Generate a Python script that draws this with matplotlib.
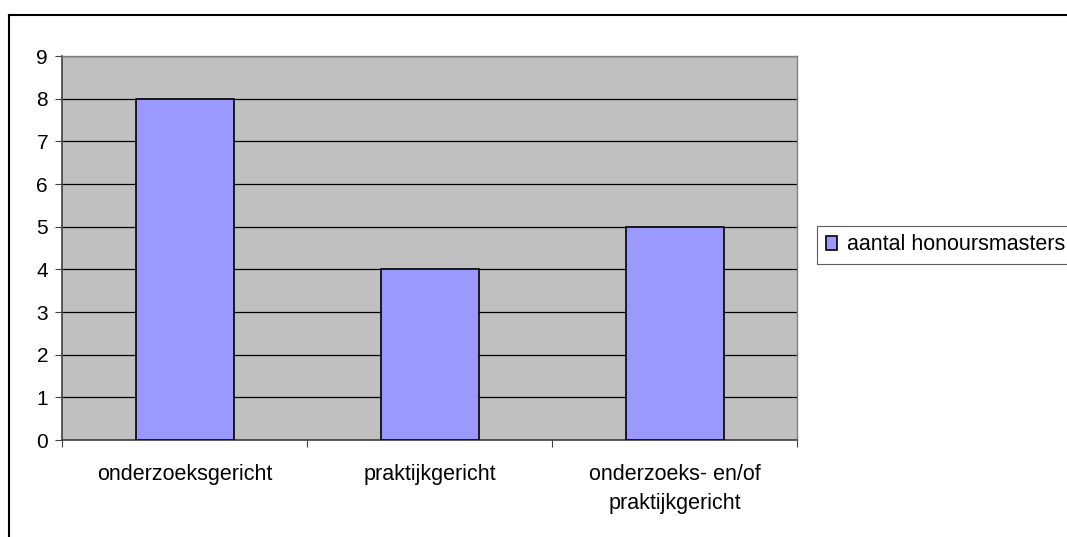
import matplotlib
matplotlib.use("Agg")
import matplotlib.pyplot as plt
from matplotlib.lines import Line2D

categories = ["onderzoeksgericht", "praktijkgericht", "onderzoeks- en/of\npraktijkgericht"]
values = [8, 4, 5]
series_name = "aantal honoursmasters"
yticks = list(range(0, 10))

plt.rcParams['font.family'] = ['Liberation Sans', 'DejaVu Sans']

W, H = 1067, 537
fig = plt.figure(figsize=(W / 100, H / 100), dpi=100)

# outer frame (chart border)
fig.add_artist(Line2D([9 / W, 9 / W], [0, 1 - 15 / H], transform=fig.transFigure, color='black', lw=1.5))
fig.add_artist(Line2D([9 / W, 1], [1 - 15 / H, 1 - 15 / H], transform=fig.transFigure, color='black', lw=1.5))

x0, x1, y0, y1 = 62, 797, 56, 440
ax = fig.add_axes([x0 / W, 1 - y1 / H, (x1 - x0) / W, (y1 - y0) / H])
ax.set_facecolor('#C0C0C0')
xs = list(range(len(categories)))
ax.bar(xs, values, width=0.4, color='#9999FF', edgecolor='black', linewidth=1.2, zorder=3, label=series_name)
ax.set_xlim(-0.5, len(categories) - 0.5)
ax.set_ylim(0, 9)
ax.set_yticks(yticks)
ax.yaxis.grid(True, color='black', linewidth=0.9, zorder=1)
ax.set_axisbelow(True)
ax.set_xticks([i + 0.5 for i in range(-1, len(categories))])
ax.set_xticklabels([])
ax.set_xticks(xs, minor=True)
ax.set_xticklabels(categories, minor=True, fontsize=15.5, linespacing=1.55)
ax.tick_params(axis='x', which='minor', length=0, pad=17)
ax.tick_params(axis='x', which='major', length=5, color='#404040')
ax.tick_params(axis='y', length=5, color='#404040', labelsize=15, pad=5)
for s in ['top', 'right']:
    ax.spines[s].set_color('#808080')
    ax.spines[s].set_linewidth(1.0)
for s in ['left', 'bottom']:
    ax.spines[s].set_color('#404040')
    ax.spines[s].set_linewidth(1.2)

leg = fig.legend(loc='center left', bbox_to_anchor=(817 / W, 1 - 245 / H), fontsize=15.5,
                 frameon=True, fancybox=False, edgecolor='#333333', handlelength=0.55, handleheight=0.6,
                 handletextpad=0.45, borderpad=0.4, borderaxespad=0)
leg.get_frame().set_linewidth(0.8)

fig.savefig('out.png', dpi=100)
